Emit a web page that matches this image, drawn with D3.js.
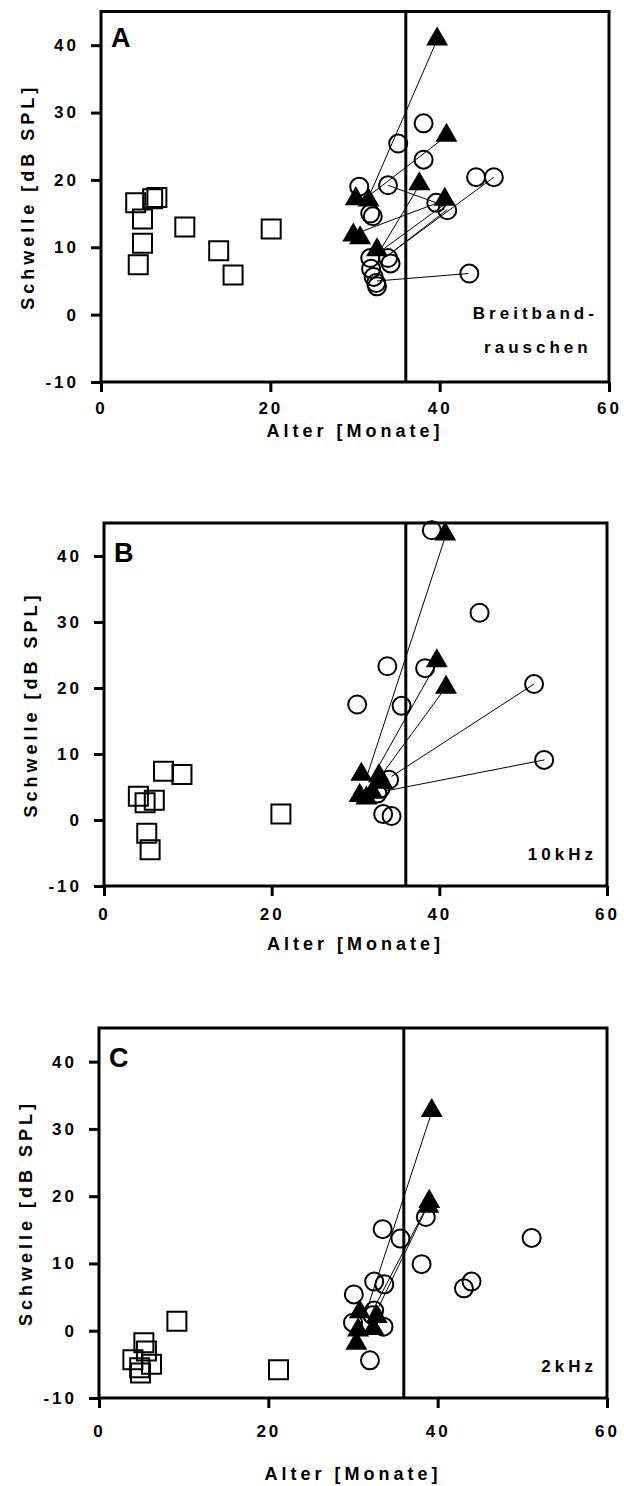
<!DOCTYPE html>
<html lang="de">
<head>
<meta charset="UTF-8">
<title>Schwelle gegen Alter</title>
<script src="https://cdnjs.cloudflare.com/ajax/libs/d3/7.8.5/d3.min.js"></script>
<style>
  body { margin: 0; background: #fff; }
  svg text { font-family: "Liberation Sans", Arial, sans-serif; font-weight: bold; fill: #000; }
  .tick text { font-size: 17px; letter-spacing: 3px; }
  .title { font-size: 18px; letter-spacing: 4px; }
  .note { font-size: 17px; letter-spacing: 4px; }
  .letter { font-size: 27px; }
</style>
</head>
<body>
<svg id="fig" width="624" height="1486"></svg>
<script>
// ticks
var xTicks = [0, 20, 40, 60];
var yTicks = [-10, 0, 10, 20, 30, 40];
var cutoffAge = 36;

// A: Breitbandrauschen  [Alter, Schwelle]
var squaresA = [[4.1,16.6],[6.1,17.2],[6.6,17.4],[4.9,14.2],[4.9,10.6],[4.4,7.4],[9.9,13.0],[13.9,9.5],[15.6,5.9],[20.1,12.7]];
var circlesA = [[38.1,28.4],[35.1,25.4],[38.1,23.0],[30.5,19.0],[33.9,19.2],[44.3,20.4],[46.4,20.4],[39.6,16.6],[40.9,15.5],
                [31.8,15.0],[32.1,14.6],[33.9,8.4],[34.2,7.6],[31.8,8.4],[31.9,6.8],[32.2,5.6],[32.5,4.7],[32.6,4.2],[43.5,6.1]];
var trianglesA = [[39.7,40.9],[40.8,26.6],[37.6,19.4],[40.6,17.1],[30.1,17.2],[31.6,17.0],[29.8,11.8],[30.6,11.4],[32.6,9.6]];
var linksA = [[31.6,17.4,39.7,40.8],[31.8,17.8,40.8,26.5],[33.0,9.6,37.6,19.2],[33.9,19.2,39.6,16.6],[30.9,12.4,40.6,17.0],
              [33.0,9.4,40.6,16.4],[33.7,8.6,40.9,15.6],[34.1,9.0,46.4,20.4],[32.6,5.0,43.4,6.1]];

// B: 10kHz
var squaresB = [[4.1,3.6],[4.9,2.6],[6.0,3.0],[5.1,-2.0],[5.5,-4.5],[7.1,7.4],[9.3,6.9],[21.1,0.9]];
var circlesB = [[39.1,43.9],[44.8,31.4],[33.8,23.3],[38.3,23.0],[30.2,17.5],[35.5,17.3],[51.3,20.6],[52.5,9.1],
                [34.0,6.1],[33.3,0.9],[34.3,0.6],[32.6,4.0],[33.0,4.8]];
var trianglesB = [[40.7,43.3],[39.7,24.1],[40.8,20.1],[30.7,6.9],[32.8,6.7],[33.2,5.7],[30.5,3.7],[31.3,3.3],[32.0,4.2]];
var linksB = [[31.4,6.8,40.6,42.5],[31.8,6.0,39.6,23.6],[32.4,5.6,40.6,19.8],[34.3,6.6,51.3,20.6],[33.6,4.4,52.5,9.1]];

// C: 2kHz
var squaresC = [[4.0,-4.3],[5.3,-1.8],[5.6,-3.0],[4.8,-5.5],[4.9,-6.3],[6.2,-5.0],[9.2,1.4],[21.2,-5.8]];
var circlesC = [[33.5,15.1],[35.6,13.7],[38.6,16.9],[38.1,9.9],[51.1,13.8],[43.1,6.3],[44.0,7.3],[32.5,7.3],[33.7,6.9],
                [30.1,5.4],[32.5,3.0],[30.0,1.2],[33.6,0.6],[32.0,-4.4],[32.3,2.3]];
var trianglesC = [[39.3,32.7],[39.0,19.2],[38.9,18.5],[30.8,2.8],[32.8,2.1],[30.6,0.1],[32.4,0.3],[30.4,-1.9]];
var linksC = [[31.6,3.0,39.3,32.5],[32.0,2.2,38.9,18.9],[32.6,2.4,38.6,18.0]];

var panels = [
  {letter: "A", note: ["Breitband-", "rauschen"], squares: squaresA, circles: circlesA, triangles: trianglesA, links: linksA,
   left: 101, top: 11.5, width: 508, height: 370.5, xPad: 10, titleY: 55},
  {letter: "B", note: ["10kHz"], squares: squaresB, circles: circlesB, triangles: trianglesB, links: linksB,
   left: 104, top: 523, width: 503, height: 363, xPad: 12, titleY: 64},
  {letter: "C", note: ["2kHz"], squares: squaresC, circles: circlesC, triangles: trianglesC, links: linksC,
   left: 99, top: 1028, width: 508, height: 370, xPad: 17, titleY: 82}
];

var svg = d3.select("#fig");
var square = d3.symbol().type(d3.symbolSquare).size(19 * 19);
var triangle = d3.symbol().type(d3.symbolTriangle).size(210);
var plain = d => String(d);   // keep hyphen-minus like the original

panels.forEach(function(p) {
  var x = d3.scaleLinear().domain([0, 60]).range([0, p.width]);
  var y = d3.scaleLinear().domain([-10, 45]).range([p.height, 0]);
  var g = svg.append("g").attr("transform", "translate(" + p.left + "," + p.top + ")");

  var ya = g.append("g")
      .call(d3.axisLeft(y).tickValues(yTicks).tickFormat(plain).tickSize(10).tickPadding(12));
  var xa = g.append("g").attr("transform", "translate(0," + p.height + ")")
      .call(d3.axisBottom(x).tickValues(xTicks).tickFormat(plain).tickSize(10).tickPadding(p.xPad));
  [ya, xa].forEach(function(a) {
    a.attr("font-size", null).attr("font-family", null);
    a.select(".domain").remove();
    a.selectAll(".tick line").attr("stroke", "#000").attr("stroke-width", 3);
  });

  g.append("text").attr("class", "title")
      .attr("x", p.width / 2).attr("y", p.height + p.titleY)
      .attr("text-anchor", "middle").text("Alter [Monate]");
  g.append("text").attr("class", "title")
      .attr("transform", "translate(-67," + (p.height / 2) + ") rotate(-90)")
      .attr("text-anchor", "middle").text("Schwelle [dB SPL]");

  // connections between repeated measurements
  g.selectAll("line.link").data(p.links).enter().append("line")
      .attr("class", "link")
      .attr("x1", d => x(d[0])).attr("y1", d => y(d[1]))
      .attr("x2", d => x(d[2])).attr("y2", d => y(d[3]))
      .attr("stroke", "#000").attr("stroke-width", 1);

  g.selectAll("path.sq").data(p.squares).enter().append("path")
      .attr("class", "sq")
      .attr("d", square)
      .attr("transform", d => "translate(" + x(d[0]) + "," + y(d[1]) + ")")
      .attr("fill", "none").attr("stroke", "#000").attr("stroke-width", 2);

  g.selectAll("circle.ci").data(p.circles).enter().append("circle")
      .attr("class", "ci")
      .attr("cx", d => x(d[0])).attr("cy", d => y(d[1])).attr("r", 9)
      .attr("fill", "none").attr("stroke", "#000").attr("stroke-width", 2);

  g.selectAll("path.tri").data(p.triangles).enter().append("path")
      .attr("class", "tri")
      .attr("d", triangle)
      .attr("transform", d => "translate(" + x(d[0]) + "," + y(d[1]) + ")")
      .attr("fill", "#000");

  g.append("line")
      .attr("x1", x(cutoffAge)).attr("x2", x(cutoffAge))
      .attr("y1", 0).attr("y2", p.height)
      .attr("stroke", "#000").attr("stroke-width", 3);

  g.append("rect")
      .attr("width", p.width).attr("height", p.height)
      .attr("fill", "none").attr("stroke", "#000").attr("stroke-width", 3);

  g.append("text").attr("class", "letter")
      .attr("x", 10).attr("y", p.letter === "A" ? 35 : 39).text(p.letter);

  if (p.note.length === 2) {
    g.append("text").attr("class", "note")
        .attr("x", p.width * 0.855).attr("y", 307)
        .attr("text-anchor", "middle").text(p.note[0]);
    g.append("text").attr("class", "note")
        .attr("x", p.width * 0.86).attr("y", 341)
        .attr("text-anchor", "middle").text(p.note[1]);
  } else {
    g.append("text").attr("class", "note")
        .attr("x", p.width - 10).attr("y", p.height - 26)
        .attr("text-anchor", "end").text(p.note[0]);
  }
});
</script>
</body>
</html>
